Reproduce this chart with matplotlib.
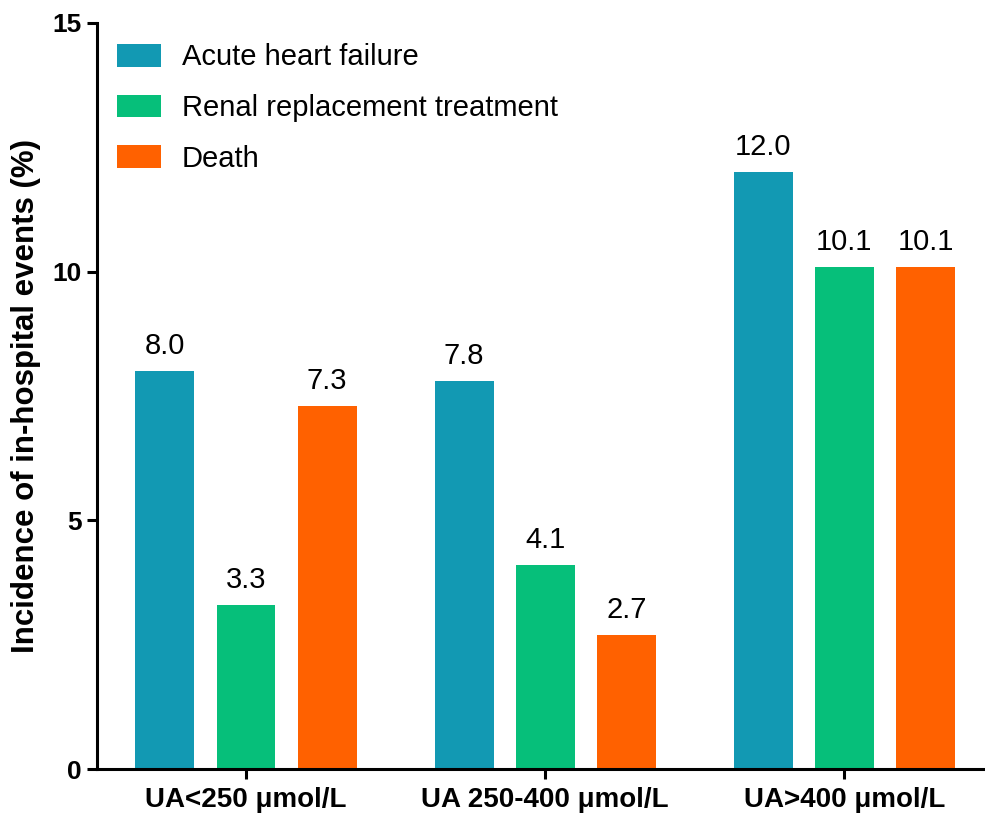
import matplotlib.pyplot as plt
import numpy as np

plt.rcParams['font.family'] = ['Liberation Sans', 'DejaVu Sans']

# Data
groups = ['UA<250 μmol/L', 'UA 250-400 μmol/L', 'UA>400 μmol/L']
series = ['Acute heart failure', 'Renal replacement treatment', 'Death']
heart_failure = [8.0, 7.8, 12.0]
renal = [3.3, 4.1, 10.1]
death = [7.3, 2.7, 10.1]
colors = ['#1299B3', '#06BF7A', '#FF6100']

fig = plt.figure(figsize=(9.85, 8.15), dpi=100)
ax = fig.add_axes([0.0985, 0.0564, 0.9015, 0.9154])

x = np.arange(len(groups))
width = 0.197
offset = 0.271
for i, (vals, name, col) in enumerate(zip([heart_failure, renal, death], series, colors)):
    bars = ax.bar(x + (i - 1) * offset, vals, width, color=col, label=name)
    ax.bar_label(bars, labels=['%.1f' % v for v in vals], padding=8, fontsize=21)

ax.set_xlim(-0.498, 2.47)
ax.set_ylim(0, 15)
ax.set_yticks([0, 5, 10, 15])
ax.set_xticks(x)
ax.set_xticklabels(groups, fontsize=20, fontweight='bold')
ax.tick_params(axis='y', labelsize=19, width=2.2, length=7, pad=4)
for lab in ax.get_yticklabels():
    lab.set_fontweight('bold')
ax.tick_params(axis='x', width=2.2, length=7, pad=6)
ax.set_ylabel('Incidence of in-hospital events (%)', fontsize=22.5, fontweight='bold', labelpad=8)

ax.spines['right'].set_visible(False)
ax.spines['top'].set_visible(False)
ax.spines['left'].set_linewidth(2.2)
ax.spines['bottom'].set_linewidth(2.2)

leg = ax.legend(loc='upper left', bbox_to_anchor=(0.0, 1.0), frameon=False, fontsize=21,
                handlelength=1.5, handleheight=0.82, labelspacing=0.78, handletextpad=0.7,
                borderaxespad=0.3)

fig.savefig('out.png', dpi=100)
